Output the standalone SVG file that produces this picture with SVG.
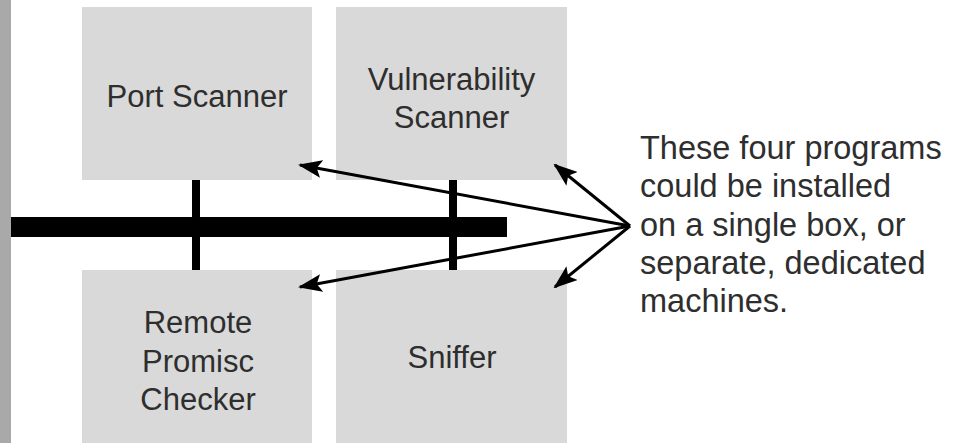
<svg xmlns="http://www.w3.org/2000/svg" width="963" height="443" viewBox="0 0 963 443">
<defs>
<style>
.box{fill:#d9d9d9;}
.lbl{font-family:"Liberation Sans",Arial,sans-serif;font-size:31px;fill:#2e2e2e;text-anchor:middle;}
.note{font-family:"Liberation Sans",Arial,sans-serif;font-size:32.5px;fill:#2e2e2e;}
.arrow{stroke:#000;stroke-width:3;fill:none;marker-end:url(#ah);}
</style>
<marker id="ah" markerUnits="userSpaceOnUse" markerWidth="24" markerHeight="18" refX="22" refY="9" orient="auto">
<path d="M0,0 L24,9 L0,18 L5,9 z" fill="#000"/>
</marker>
</defs>
<rect width="963" height="443" fill="#fff"/>
<rect x="0" y="0" width="11" height="443" fill="#a9a9a9"/>
<g id="port-scanner">
<rect class="box" x="82" y="7" width="230" height="173"/>
<text class="lbl" x="197" y="107">Port Scanner</text>
</g>
<g id="vulnerability-scanner">
<rect class="box" x="336" y="7" width="231" height="173"/>
<text class="lbl" x="451.5" y="90">Vulnerability</text>
<text class="lbl" x="451.5" y="128">Scanner</text>
</g>
<g id="remote-promisc-checker">
<rect class="box" x="82" y="270" width="230" height="173"/>
<text class="lbl" x="198" y="333">Remote</text>
<text class="lbl" x="198" y="372">Promisc</text>
<text class="lbl" x="198" y="410">Checker</text>
</g>
<g id="sniffer">
<rect class="box" x="336" y="270" width="231" height="173"/>
<text class="lbl" x="452" y="368">Sniffer</text>
</g>
<g id="network">
<rect x="11" y="217" width="496" height="20" fill="#000"/>
<rect x="192" y="180" width="8" height="90" fill="#000"/>
<rect x="449" y="180" width="8" height="90" fill="#000"/>
</g>
<g id="connectors">
<line class="arrow" x1="630" y1="226" x2="300" y2="165"/>
<line class="arrow" x1="630" y1="226" x2="555" y2="165"/>
<line class="arrow" x1="630" y1="226" x2="300" y2="287"/>
<line class="arrow" x1="630" y1="226" x2="555" y2="287"/>
</g>
<g id="note">
<text class="note" x="640" y="159">These four programs</text>
<text class="note" x="640" y="197">could be installed</text>
<text class="note" x="640" y="236">on a single box, or</text>
<text class="note" x="640" y="274">separate, dedicated</text>
<text class="note" x="640" y="312">machines.</text>
</g>
</svg>
